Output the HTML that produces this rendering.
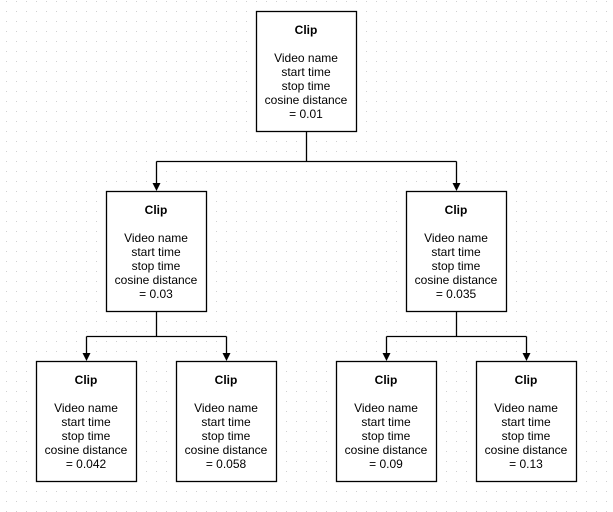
<!DOCTYPE html>
<html><head><style>
html,body{margin:0;padding:0;background:#fff;}
svg{display:block;}
text{font-family:"Liberation Sans",Arial,sans-serif;font-size:12px;fill:#000;text-anchor:middle;}
.b{font-weight:bold;}
</style></head><body>
<svg width="613" height="512" viewBox="0 0 613 512" xmlns="http://www.w3.org/2000/svg">
<defs>
<pattern id="g" x="0" y="0" width="10" height="10" patternUnits="userSpaceOnUse">
<rect x="6" y="1" width="1" height="1" fill="#d0d0d0"/>
</pattern>
</defs>
<rect width="613" height="512" fill="url(#g)"/>
<g stroke="#000" stroke-width="1.3" fill="none">
<path d="M306.5 131V161.5M156.5 161.5H456.5M156.5 161.5V184M456.5 161.5V184"/>
<path d="M156.5 311V336.5M86.5 336.5H226.5M86.5 336.5V354M226.5 336.5V354"/>
<path d="M456.5 311V336.5M386.5 336.5H526.5M386.5 336.5V354M526.5 336.5V354"/>
</g>
<g fill="#000">
<path d="M152.5 183L160.5 183L156.5 191Z"/>
<path d="M452.5 183L460.5 183L456.5 191Z"/>
<path d="M82.5 353L90.5 353L86.5 361Z"/>
<path d="M222.5 353L230.5 353L226.5 361Z"/>
<path d="M382.5 353L390.5 353L386.5 361Z"/>
<path d="M522.5 353L530.5 353L526.5 361Z"/>
</g>
<g stroke="#000" stroke-width="1.3" fill="#fff">
<rect x="256.5" y="11.5" width="100" height="120"/>
<rect x="106.5" y="191.5" width="100" height="120"/>
<rect x="406.5" y="191.5" width="100" height="120"/>
<rect x="36.5" y="361.5" width="100" height="120"/>
<rect x="176.5" y="361.5" width="100" height="120"/>
<rect x="336.5" y="361.5" width="100" height="120"/>
<rect x="476.5" y="361.5" width="100" height="120"/>
</g>
<g transform="translate(306,11)"><text class="b" y="23">Clip</text><text y="51">Video name</text><text y="65">start time</text><text y="79">stop time</text><text y="93">cosine distance</text><text y="107">= 0.01</text></g>
<g transform="translate(156,191)"><text class="b" y="23">Clip</text><text y="51">Video name</text><text y="65">start time</text><text y="79">stop time</text><text y="93">cosine distance</text><text y="107">= 0.03</text></g>
<g transform="translate(456,191)"><text class="b" y="23">Clip</text><text y="51">Video name</text><text y="65">start time</text><text y="79">stop time</text><text y="93">cosine distance</text><text y="107">= 0.035</text></g>
<g transform="translate(86,361)"><text class="b" y="23">Clip</text><text y="51">Video name</text><text y="65">start time</text><text y="79">stop time</text><text y="93">cosine distance</text><text y="107">= 0.042</text></g>
<g transform="translate(226,361)"><text class="b" y="23">Clip</text><text y="51">Video name</text><text y="65">start time</text><text y="79">stop time</text><text y="93">cosine distance</text><text y="107">= 0.058</text></g>
<g transform="translate(386,361)"><text class="b" y="23">Clip</text><text y="51">Video name</text><text y="65">start time</text><text y="79">stop time</text><text y="93">cosine distance</text><text y="107">= 0.09</text></g>
<g transform="translate(526,361)"><text class="b" y="23">Clip</text><text y="51">Video name</text><text y="65">start time</text><text y="79">stop time</text><text y="93">cosine distance</text><text y="107">= 0.13</text></g>
</svg>
</body></html>
